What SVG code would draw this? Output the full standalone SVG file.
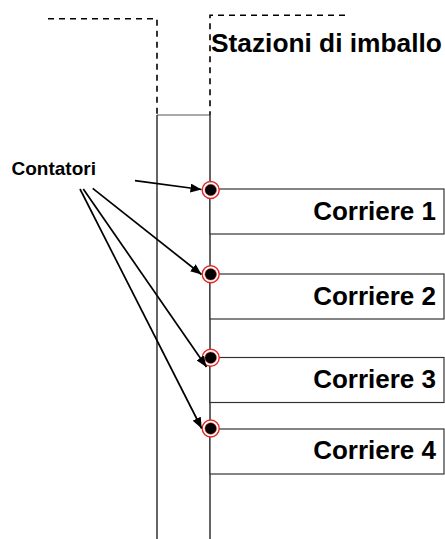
<svg xmlns="http://www.w3.org/2000/svg" width="445" height="539" viewBox="0 0 445 539">
  <style>
    .dash { fill: none; stroke: #000; stroke-width: 1.6; stroke-dasharray: 6 5; }
    .wall { fill: none; stroke: #111; stroke-width: 1.3; }
    .box { fill: #fff; stroke: #333; stroke-width: 1.2; }
    .lbl { font-family: "Liberation Sans", Arial, sans-serif; font-weight: bold; fill: #000; }
    .big { font-size: 26.3px; }
    .corr { font-size: 26px; text-anchor: end; }
    .small { font-size: 19px; }
    .conn { fill: none; stroke: #000; stroke-width: 1.7; }
    .ring { fill: #fff; stroke: #e02828; stroke-width: 1.4; }
    .core { fill: #000; stroke: #e02828; stroke-width: 0.5; }
  </style>
  <defs>
    <marker id="arrow" viewBox="0 0 11 9" refX="11" refY="4.5" markerWidth="11" markerHeight="9" markerUnits="userSpaceOnUse" orient="auto">
      <path d="M0,0 L11,4.5 L0,9 Z" fill="#000"/>
    </marker>
  </defs>

  <rect width="445" height="539" fill="#fff"/>

  <!-- packing stations area (dashed outline) -->
  <g id="stazioni">
    <path class="dash" d="M48,18.7 H157 V115"/>
    <path class="dash" d="M345,15.3 H210 V115"/>
    <line x1="157" y1="115" x2="210" y2="115" stroke="#555" stroke-width="1.2"/>
    <text class="lbl big" x="211" y="51.5">Stazioni di imballo</text>
  </g>

  <!-- main conveyor -->
  <g id="nastro">
    <line class="wall" x1="157" y1="115" x2="157" y2="539"/>
    <line class="wall" x1="210" y1="115" x2="210" y2="539"/>
  </g>

  <!-- courier lanes -->
  <g id="corriere1">
    <rect class="box" x="210" y="189" width="234" height="45"/>
    <text class="lbl corr" x="436" y="220">Corriere 1</text>
  </g>
  <g id="corriere2">
    <rect class="box" x="210" y="274" width="234" height="45"/>
    <text class="lbl corr" x="436" y="305">Corriere 2</text>
  </g>
  <g id="corriere3">
    <rect class="box" x="210" y="357.5" width="234" height="45"/>
    <text class="lbl corr" x="436" y="388">Corriere 3</text>
  </g>
  <g id="corriere4">
    <rect class="box" x="210" y="429" width="234" height="45"/>
    <text class="lbl corr" x="436" y="459">Corriere 4</text>
  </g>

  <!-- counters -->
  <g id="contatore1"><circle class="ring" cx="210.7" cy="190" r="8.5"/><circle class="core" cx="210.7" cy="190" r="5.8"/></g>
  <g id="contatore2"><circle class="ring" cx="210.7" cy="274.3" r="8.5"/><circle class="core" cx="210.7" cy="274.3" r="5.8"/></g>
  <g id="contatore3"><circle class="ring" cx="210.7" cy="357.7" r="8.5"/><circle class="core" cx="210.7" cy="357.7" r="5.8"/></g>
  <g id="contatore4"><circle class="ring" cx="210.7" cy="428.5" r="8.5"/><circle class="core" cx="210.7" cy="428.5" r="5.8"/></g>

  <g id="contatori">
    <text class="lbl small" x="11.5" y="175">Contatori</text>
  </g>

  <!-- pointers from the label to each counter -->
  <g id="connectors">
    <line class="conn" x1="135" y1="180.7" x2="201.5" y2="189.5" marker-end="url(#arrow)"/>
    <line class="conn" x1="92.7" y1="188.3" x2="201.5" y2="274.5" marker-end="url(#arrow)"/>
    <line class="conn" x1="83.3" y1="189" x2="206.5" y2="367" marker-end="url(#arrow)"/>
    <line class="conn" x1="80" y1="189" x2="201.7" y2="428.5" marker-end="url(#arrow)"/>
  </g>
</svg>
